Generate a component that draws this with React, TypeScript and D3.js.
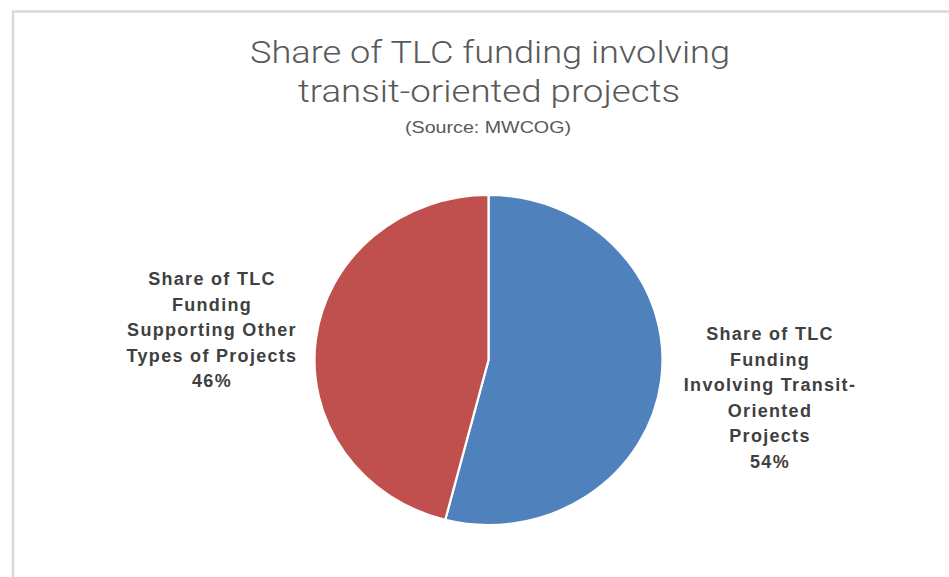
import React from "react";
import * as d3 from "d3";

const categories = [
  "Share of TLC Funding Involving Transit-Oriented Projects",
  "Share of TLC Funding Supporting Other Types of Projects",
];
const values = [54, 46];
const colors = ["#4F81BD", "#C0504D"];
const rightLabelLines = ["Share of TLC", "Funding", "Involving Transit-", "Oriented", "Projects"];
const leftLabelLines = ["Share of TLC", "Funding", "Supporting Other", "Types of Projects"];
const titleLines = ["Share of TLC funding involving", "transit-oriented projects"];
const subtitle = "(Source: MWCOG)";

const W = 949;
const H = 577;

export default function App() {
  const cx = 488.5;
  const cy = 360;
  const r = 165;
  const sx = 174 / 165;
  const pie = d3.pie<number>().sort(null).value((d) => d)(values);
  const arc = d3.arc<d3.PieArcDatum<number>>().innerRadius(0).outerRadius(r);
  const fmt = (v: number) => `${Math.round(v)}%`;
  const total = d3.sum(values);
  const labelFont = "'Liberation Sans', Arial, sans-serif";
  const lh = 25.6;
  return (
    <svg
      width={W}
      height={H}
      style={{ position: "absolute", left: 0, top: 0, background: "#fff" }}
    >
      <rect x={0} y={0} width={W} height={H} fill="#fff" />
      <path d={`M13,${H} L13,11.5 L${W},11.5`} fill="none" stroke="#d9d9d9" strokeWidth={2.5} />
      <g fill="#595959" textAnchor="middle" fontFamily="Roboto, 'Liberation Sans', sans-serif">
        <text x={490} y={63} fontSize={31} fontWeight={300} textLength={480} lengthAdjust="spacingAndGlyphs">
          {titleLines[0]}
        </text>
        <text x={489} y={102} fontSize={31} fontWeight={300} textLength={382} lengthAdjust="spacingAndGlyphs">
          {titleLines[1]}
        </text>
        <text x={488} y={133} fontSize={16} fontFamily={labelFont} textLength={166} lengthAdjust="spacingAndGlyphs">
          {subtitle}
        </text>
      </g>
      <g transform={`translate(${cx},${cy}) scale(${sx},1)`}>
        {pie.map((p, i) => (
          <path
            key={categories[i]}
            d={arc(p) || ""}
            fill={colors[i]}
            stroke="#fff"
            strokeWidth={2.2}
            vectorEffect="non-scaling-stroke"
          />
        ))}
      </g>
      <g
        fill="#404040"
        textAnchor="middle"
        fontFamily={labelFont}
        fontSize={18}
        fontWeight="bold"
        letterSpacing={1.3}
      >
        {[...rightLabelLines, fmt((values[0] / total) * 100)].map((t, i) => (
          <text key={"r" + i} x={770} y={340 + i * lh}>
            {t}
          </text>
        ))}
        {[...leftLabelLines, fmt((values[1] / total) * 100)].map((t, i) => (
          <text key={"l" + i} x={212} y={285 + i * lh}>
            {t}
          </text>
        ))}
      </g>
    </svg>
  );
}
